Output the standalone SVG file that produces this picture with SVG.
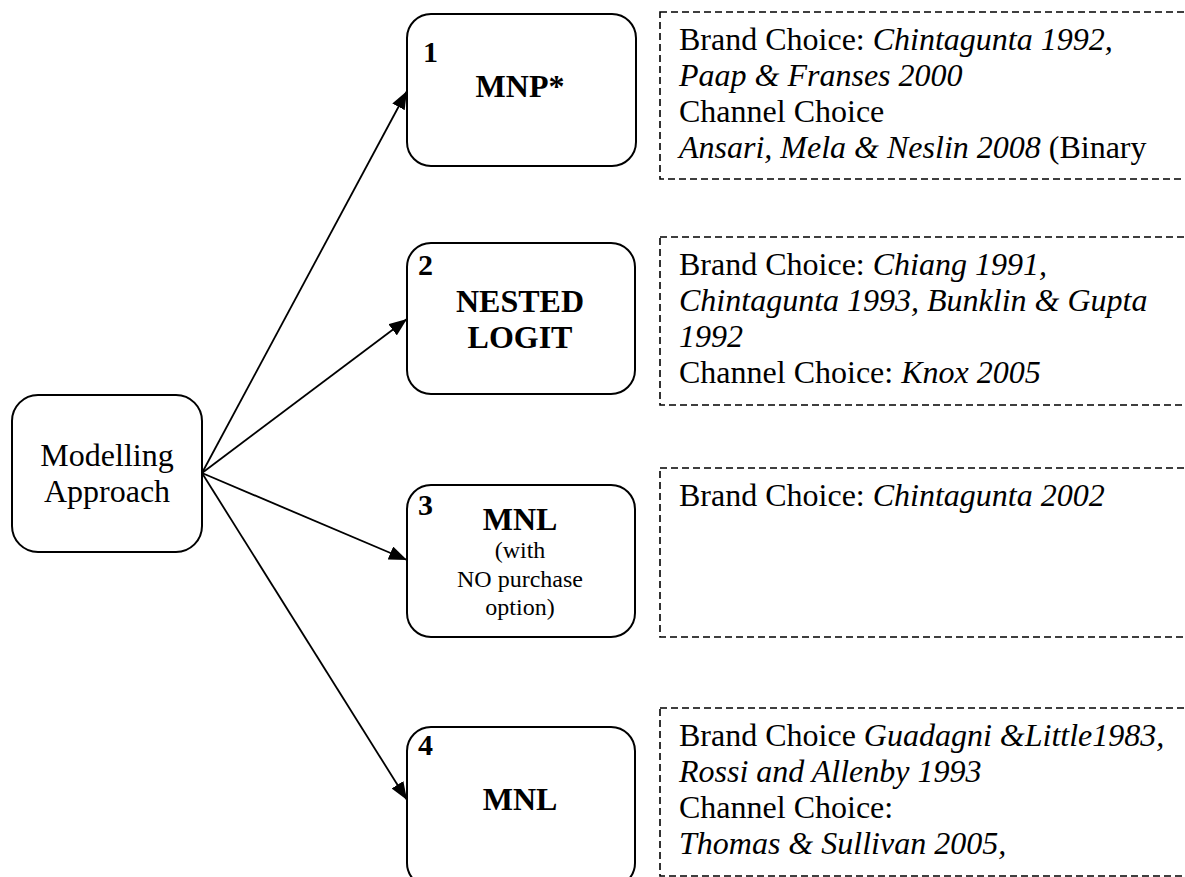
<svg xmlns="http://www.w3.org/2000/svg" width="1185" height="877" viewBox="0 0 1185 877">
<style>
  text { font-family: "Liberation Serif", "Times New Roman", serif; fill: #000; }
  .node { fill: #fff; stroke: #000; stroke-width: 2; }
  .ref { fill: none; stroke: #000; stroke-width: 1.6; stroke-dasharray: 7 4; }
  .conn { stroke: #000; stroke-width: 1.8; fill: none; marker-end: url(#arrow); }
  .big { font-size: 32px; }
  .bold { font-size: 32px; font-weight: bold; text-anchor: middle; }
  .num { font-size: 30px; font-weight: bold; }
  .small { font-size: 24px; text-anchor: middle; }
  .it { font-style: italic; }
</style>
<defs>
  <marker id="arrow" viewBox="0 0 18 14" refX="18" refY="7" markerWidth="18" markerHeight="14" markerUnits="userSpaceOnUse" orient="auto">
    <path d="M0,0 L18,7 L0,14 Z" fill="#000"/>
  </marker>
</defs>
<rect width="1185" height="877" fill="#fff"/>

<g id="connectors">
  <line class="conn" x1="202" y1="473" x2="407" y2="91"/>
  <line class="conn" x1="202" y1="473" x2="407" y2="319"/>
  <line class="conn" x1="202" y1="473" x2="407" y2="560"/>
  <line class="conn" x1="202" y1="473" x2="407" y2="800"/>
</g>

<g id="modelling">
  <rect class="node" x="12" y="395" width="190" height="157" rx="26" ry="26"/>
  <text class="big" x="107" y="466" text-anchor="middle">Modelling</text>
  <text class="big" x="107" y="502" text-anchor="middle">Approach</text>
</g>

<g id="node1">
  <rect class="node" x="407" y="14" width="229" height="152" rx="24" ry="24"/>
  <text class="num" x="423" y="62">1</text>
  <text class="bold" x="520" y="97">MNP*</text>
</g>
<g id="ref1">
  <rect class="ref" x="660" y="12" width="540" height="167"/>
  <text class="big" x="679" y="50">Brand Choice: <tspan class="it">Chintagunta 1992,</tspan></text>
  <text class="big it" x="679" y="86">Paap &amp; Franses 2000</text>
  <text class="big" x="679" y="122">Channel Choice</text>
  <text class="big" x="679" y="158"><tspan class="it">Ansari, Mela &amp; Neslin 2008</tspan> (Binary</text>
</g>

<g id="node2">
  <rect class="node" x="407" y="243" width="228" height="151" rx="24" ry="24"/>
  <text class="num" x="418" y="275">2</text>
  <text class="bold" x="520" y="312">NESTED</text>
  <text class="bold" x="520" y="348">LOGIT</text>
</g>
<g id="ref2">
  <rect class="ref" x="660" y="237" width="540" height="168"/>
  <text class="big" x="679" y="275">Brand Choice: <tspan class="it">Chiang 1991,</tspan></text>
  <text class="big it" x="679" y="311">Chintagunta 1993, Bunklin &amp; Gupta</text>
  <text class="big it" x="679" y="347">1992</text>
  <text class="big" x="679" y="383">Channel Choice: <tspan class="it">Knox 2005</tspan></text>
</g>

<g id="node3">
  <rect class="node" x="407" y="485" width="228" height="152" rx="24" ry="24"/>
  <text class="num" x="418" y="515">3</text>
  <text class="bold" x="520" y="530">MNL</text>
  <text class="small" x="520" y="558">(with</text>
  <text class="small" x="520" y="587">NO purchase</text>
  <text class="small" x="520" y="615">option)</text>
</g>
<g id="ref3">
  <rect class="ref" x="660" y="468" width="540" height="169"/>
  <text class="big" x="679" y="506">Brand Choice: <tspan class="it">Chintagunta 2002</tspan></text>
</g>

<g id="node4">
  <rect class="node" x="407" y="727" width="228" height="160" rx="24" ry="24"/>
  <text class="num" x="418" y="755">4</text>
  <text class="bold" x="520" y="810">MNL</text>
</g>
<g id="ref4">
  <rect class="ref" x="660" y="708" width="540" height="168"/>
  <text class="big" x="679" y="746">Brand Choice <tspan class="it">Guadagni &amp;Little1983,</tspan></text>
  <text class="big it" x="679" y="782">Rossi and Allenby 1993</text>
  <text class="big" x="679" y="818">Channel Choice:</text>
  <text class="big it" x="679" y="854">Thomas &amp; Sullivan 2005,</text>
</g>
</svg>
